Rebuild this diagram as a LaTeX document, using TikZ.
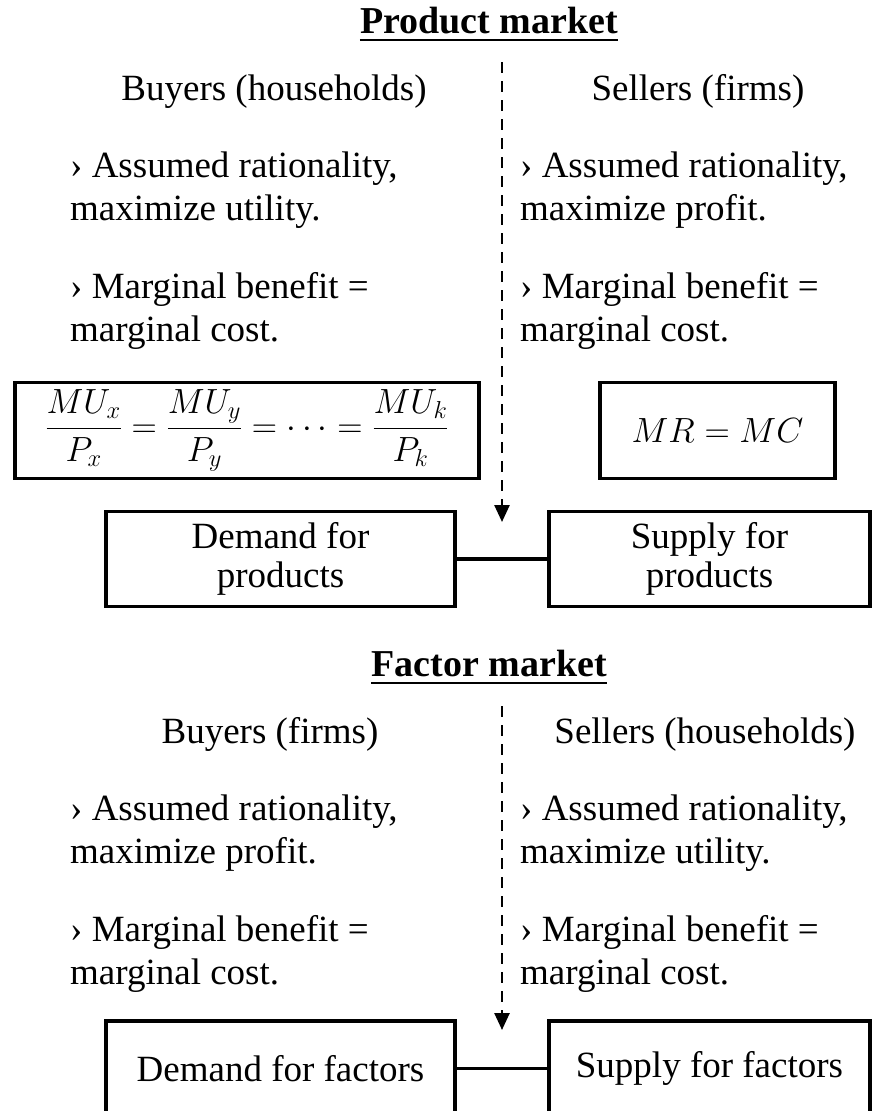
\RequirePackage{fix-cm}
\documentclass[tikz,border=0pt]{standalone}
\usepackage{fontspec}
\setmainfont{Liberation Serif}
\usetikzlibrary{arrows.meta}
\begin{document}
\begin{tikzpicture}[x=1pt,y=-1pt,
  txt/.style={font=\fontsize{37}{43}\selectfont, inner sep=0pt, align=left, anchor=west},
  head/.style={font=\fontsize{37}{43}\selectfont, inner sep=0pt, anchor=base},
  ttl/.style={font=\fontsize{38}{44}\selectfont\bfseries, inner sep=0pt, anchor=base},
  box/.style={draw, line width=3.5pt, font=\fontsize{37}{39}\selectfont, align=center, inner sep=0pt,
              minimum height=95pt},
  mathbox/.style={draw, line width=3.5pt, inner sep=0pt, minimum height=96pt},
  mth/.style={font=\fontsize{35}{40}\selectfont, inner sep=0pt},
  link/.style={line width=3.5pt},
  divider/.style={line width=2.5pt, dash pattern=on 11pt off 8pt, -{Triangle[length=17pt,width=15pt]}},
  uline/.style={line width=2.5pt}]
\useasboundingbox (0,0) rectangle (872,1111);

% ---------- Product market ----------
\node[ttl] (pm) at (489,33) {Product market};
\draw[uline] ([yshift=-7pt]pm.base west) -- ([yshift=-7pt]pm.base east);

\node[head] (bh) at (274,100) {Buyers (households)};
\node[head] (sf) at (698,100) {Sellers (firms)};

\node[txt] (b1) at (70,190) {› Assumed rationality,\\maximize utility.};
\node[txt] (b2) at (70,311) {› Marginal benefit =\\marginal cost.};
\node[txt] (s1) at (520,190) {› Assumed rationality,\\maximize profit.};
\node[txt] (s2) at (520,311) {› Marginal benefit =\\marginal cost.};

\node[mathbox, minimum width=464pt] (fb) at (247,430.5) {};
\node[mth] (fm) at (fb.center) {$\displaystyle \frac{MU_x}{P_x}=\frac{MU_y}{P_y}=\cdots=\frac{MU_k}{P_k}$};
\node[mathbox, minimum width=235pt] (mb) at (717.5,430.5) {};
\node[mth] (mm) at (mb.center) {$MR=MC$};

\coordinate (d1a) at (502,62);
\coordinate (d1b) at (502,522);
\draw[divider] (d1a) -- (d1b);

\node[box, minimum width=349pt] (dp) at (280.5,559) {Demand for\\products};
\node[box, minimum width=321pt] (sp) at (709.5,559) {Supply for\\products};
\draw[link] (dp.east) -- (sp.west);

% ---------- Factor market ----------
\node[ttl] (fmk) at (489,676) {Factor market};
\draw[uline] ([yshift=-7pt]fmk.base west) -- ([yshift=-7pt]fmk.base east);

\node[head] (bf) at (270,743) {Buyers (firms)};
\node[head] (sh) at (705,743) {Sellers (households)};

\node[txt] (c1) at (70,833) {› Assumed rationality,\\maximize profit.};
\node[txt] (c2) at (70,954) {› Marginal benefit =\\marginal cost.};
\node[txt] (t1) at (520,833) {› Assumed rationality,\\maximize utility.};
\node[txt] (t2) at (520,954) {› Marginal benefit =\\marginal cost.};

\coordinate (d2a) at (502,706);
\coordinate (d2b) at (502,1030);
\draw[divider] (d2a) -- (d2b);

\node[box, minimum width=349pt] (df) at (280.5,1068.5) {Demand for factors};
\node[box, minimum width=321pt] (sfb) at (709.5,1068.5) {Supply for factors};
\draw[link] (df.east) -- (sfb.west);
\end{tikzpicture}
\end{document}
